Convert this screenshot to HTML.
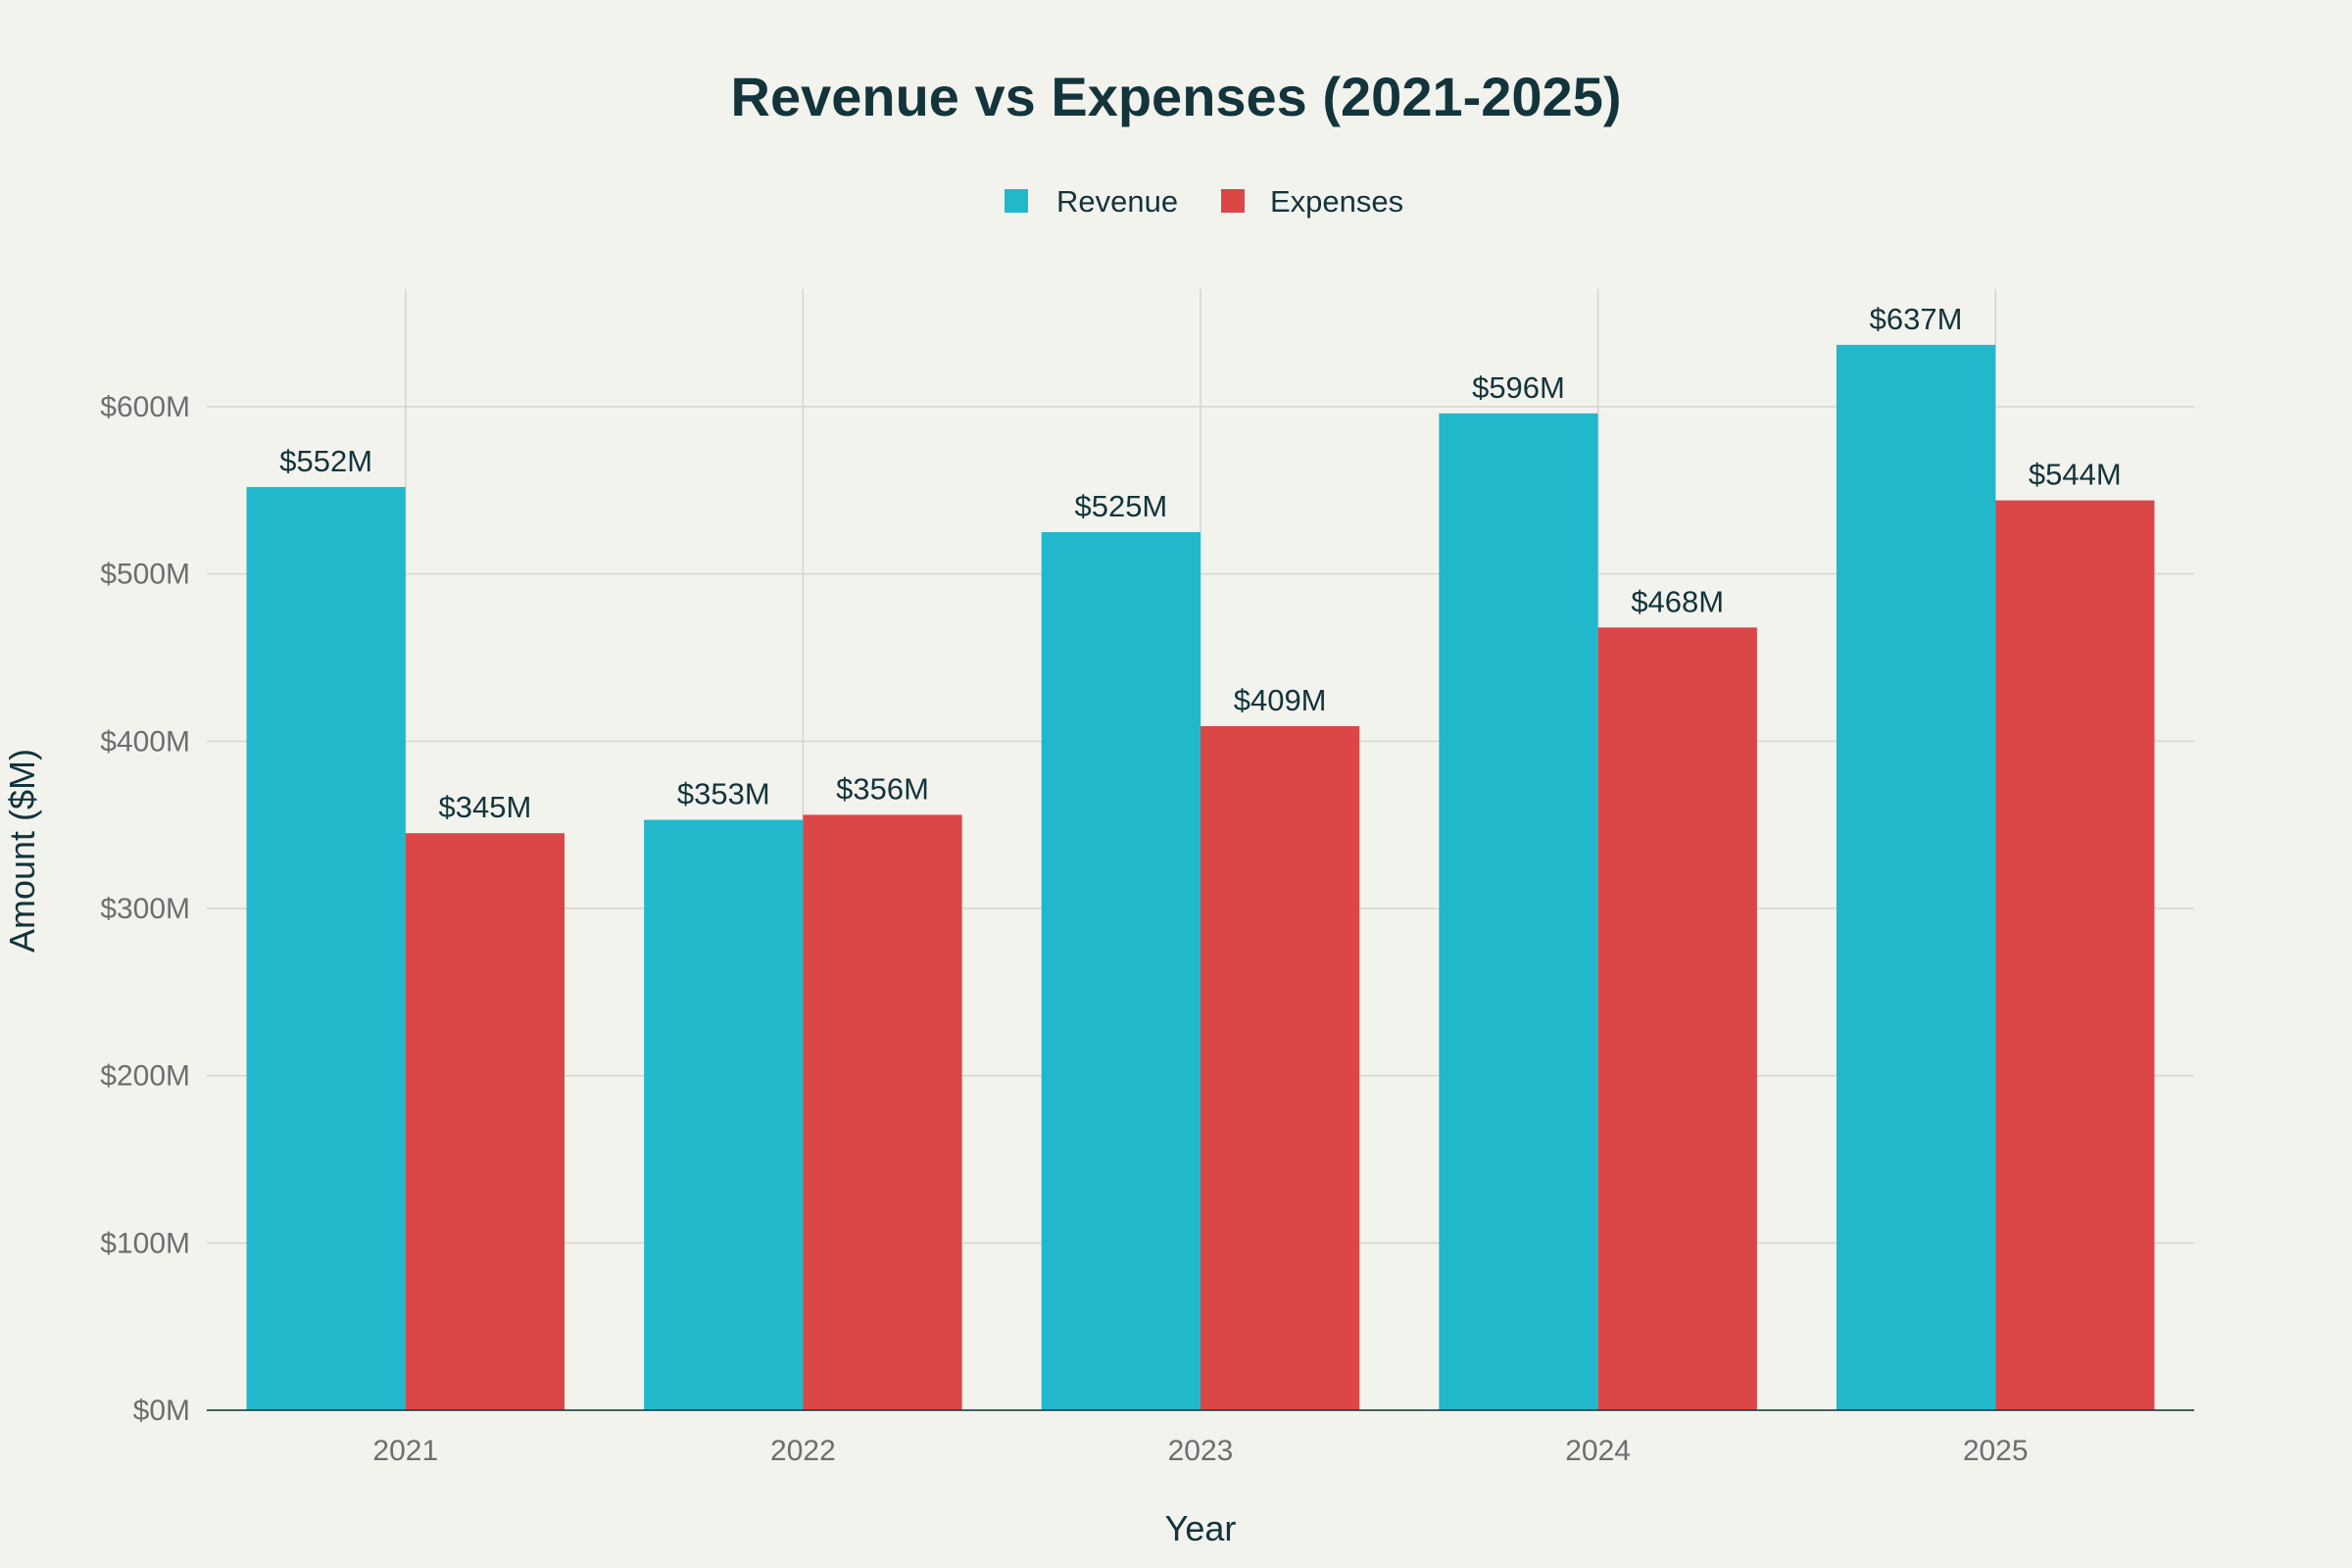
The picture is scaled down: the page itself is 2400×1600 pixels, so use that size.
<!DOCTYPE html>
<html><head><meta charset="utf-8">
<style>
html,body{margin:0;padding:0;background:#f3f3ee;}
svg{display:block;font-family:"Liberation Sans",sans-serif;}
</style></head>
<body>
<svg id="chart" width="2400" height="1600" viewBox="0 0 2400 1600">
<rect width="2400" height="1600" fill="#f3f3ee"/>
<text x="1200" y="118" text-anchor="middle" font-size="56" font-weight="bold" fill="#13343b">Revenue vs Expenses (2021-2025)</text>
<g>
<g><rect x="1025" y="193" width="24" height="24" fill="#21b8cc"/><text x="1078" y="216" font-size="31" fill="#13343b">Revenue</text></g>
<g><rect x="1246" y="193" width="24" height="24" fill="#db4646"/><text x="1296" y="216" font-size="31" fill="#13343b">Expenses</text></g>
</g>
<g id="grid"></g>
<g id="bars"></g>
<g id="axes"></g>
<text x="1225" y="1572" text-anchor="middle" font-size="36" fill="#13343b">Year</text>
<text transform="translate(35,868) rotate(-90)" text-anchor="middle" font-size="36" fill="#13343b">Amount ($M)</text>
</svg>
<script>
const categories = ["2021","2022","2023","2024","2025"];
const revenue = [552,353,525,596,637];
const expenses = [345,356,409,468,544];
const yTicks = [0,100,200,300,400,500,600];
const yTickLabels = ["$0M","$100M","$200M","$300M","$400M","$500M","$600M"];

const NS="http://www.w3.org/2000/svg";
const X0=211,X1=2239,Y0=1439,YTOP=295;
const pxPer100=(1439-415)/6;
const band=(X1-X0)/categories.length;
function y(v){return Y0 - v/100*pxPer100;}
function xc(i){return X0 + band*(i+0.5);}
function mk(tag,attrs,parent){const e=document.createElementNS(NS,tag);for(const k in attrs)e.setAttribute(k,attrs[k]);parent.appendChild(e);return e;}
const grid=document.getElementById('grid'),bars=document.getElementById('bars'),axes=document.getElementById('axes');
yTicks.forEach((t,i)=>{
  const l=mk('line',{x1:X0,x2:X1,y1:y(t),y2:y(t),stroke:'#d4d4cf','stroke-width':1.5},grid);
  
  
  const tx=mk('text',{x:194,y:y(t)+10,'text-anchor':'end','font-size':30,fill:'#6b6f70'},axes);
  tx.textContent=yTickLabels[i];
  
  
});
categories.forEach((c,i)=>{
  const l=mk('line',{x1:xc(i),x2:xc(i),y1:YTOP,y2:Y0,stroke:'#d4d4cf','stroke-width':1.5},grid);
  
  
  const bw=band*0.4;
  [[revenue[i],'#21b8cc',xc(i)-bw,'revenue'],[expenses[i],'#db4646',xc(i),'expenses']].forEach(([v,col,x,s])=>{
    const r=mk('rect',{x:x,y:y(v),width:bw,height:Y0-y(v),fill:col},bars);
    
    
    const t=mk('text',{x:x+bw/2,y:y(v)-16,'text-anchor':'middle','font-size':31,fill:'#13343b'},bars);
    t.textContent='$'+v+'M';
    
    
  });
  const tx=mk('text',{x:xc(i),y:1490,'text-anchor':'middle','font-size':30,fill:'#6b6f70'},axes);
  tx.textContent=c;
  
  
});
const ax=mk('line',{x1:X0,x2:X1,y1:Y0,y2:Y0,stroke:'#13343b','stroke-width':1.5},axes);


</script>
</body></html>
